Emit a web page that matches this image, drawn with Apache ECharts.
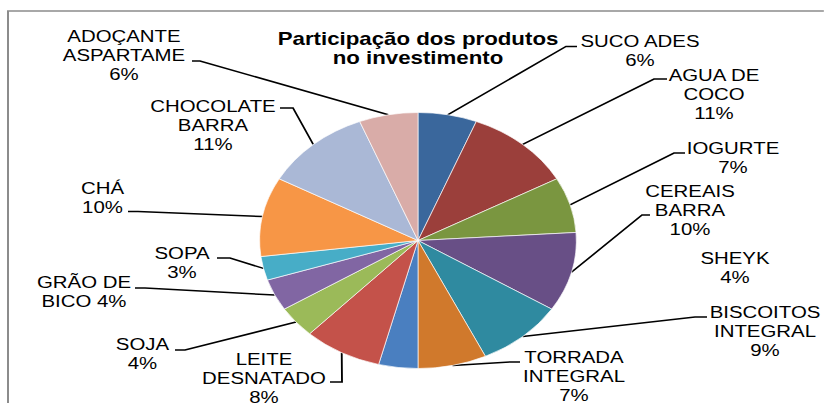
<!DOCTYPE html>
<html lang="pt">
  <head>
    <meta charset="UTF-8" />
    <title>Participação dos produtos no investimento</title>
    <script src="https://cdn.jsdelivr.net/npm/echarts@6/dist/echarts.min.js"></script>
    <style>
      html, body { margin: 0; padding: 0; background: #fff; overflow: hidden; }
      /* the source picture is stretched sideways, so the chart is drawn narrow and widened */
      #chart { width: 666px; height: 403px; transform: scaleX(1.237); transform-origin: 0 0; }
    </style>
  </head>
  <body>
    <div id="chart"></div>

    <script>
      var STRETCH = 1.237

      var categories = [
        "SUCO ADES", "AGUA DE COCO", "IOGURTE", "CEREAIS BARRA", "BISCOITOS INTEGRAL",
        "TORRADA INTEGRAL", "SHEYK", "LEITE DESNATADO", "SOJA", "GRÃO DE BICO",
        "SOPA", "CHÁ", "CHOCOLATE BARRA", "ADOÇANTE ASPARTAME",
      ]
      var values = [6, 11, 7, 10, 9, 7, 4, 8, 4, 4, 3, 10, 11, 6]

      // how each name is broken in its label
      var labelNames = [
        "SUCO ADES", "AGUA DE\nCOCO", "IOGURTE", "CEREAIS\nBARRA", "BISCOITOS\nINTEGRAL",
        "TORRADA\nINTEGRAL", "SHEYK", "LEITE\nDESNATADO", "SOJA", "GRÃO DE\nBICO",
        "SOPA", "CHÁ", "CHOCOLATE\nBARRA", "ADOÇANTE\nASPARTAME",
      ]
      var pctSameLine = { "GRÃO DE BICO": true }

      var colors = [
        "#3A679C", "#9B3F3B", "#7A9640", "#684F86", "#2F8AA0", "#D0792C", "#4A7FC0",
        "#C4524A", "#9BBA59", "#8166A3", "#47ADC7", "#F79646", "#AAB8D6", "#D9ACA8",
      ]

      // label centres, in pixels of the reference picture
      var labelPos = [
        [640, 51], [714, 94], [733, 157.5], [690, 210], [765, 331], [574, 376], [735, 268],
        [264, 378], [142.5, 353.5], [84, 292], [182, 262.5], [102.5, 198], [213, 125], [124, 55],
      ]
      // leader line bend and end (x1, y1, x2, y2), reference pixels
      var leaderPts = [
        [566, 46.5, 577, 46.5], [654, 79, 667, 79], [674, 153, 685, 153], [642, 215, 650, 215],
        [695, 317, 707, 317], [510, 362, 520, 362], null, [342, 382, 330, 382],
        [185, 350, 175, 350], [145, 288, 135, 288], [230, 258, 217, 258], [138, 211.5, 128, 211.5],
        [293, 108, 280, 108], [200, 61, 192, 61],
      ]

      var pieData = []
      for (let i = 0; i < categories.length; i++) {
        let item = { name: categories[i], value: values[i], itemStyle: { color: colors[i] } }
        if (!leaderPts[i]) item.labelLine = { show: false }
        pieData.push(item)
      }

      var mCharts = echarts.init(document.getElementById("chart"), null, { renderer: "svg" })

      var option = {
        animation: false,
        graphic: [
          {
            type: "rect",
            shape: { x: 8 / STRETCH, y: 11, width: 720, height: 500 },
            style: { fill: "none", stroke: "#8c8c8c", lineWidth: 1.6 },
            silent: true,
          },
          {
            type: "text",
            x: 418 / STRETCH,
            y: 29,
            style: {
              text: "Participação dos produtos\nno investimento",
              fill: "#000",
              font: "bold 18px 'Liberation Sans', Arial, sans-serif",
              align: "center",
              verticalAlign: "top",
              lineHeight: 19.5,
            },
          },
        ],
        series: [
          {
            type: "pie",
            center: [418 / STRETCH, 240.5],
            radius: 128,
            startAngle: 90,
            clockwise: true,
            avoidLabelOverlap: false,
            percentPrecision: 0,
            data: pieData,
            itemStyle: { borderColor: "#ffffff", borderWidth: 0.6 },
            label: {
              show: true,
              position: "outside",
              color: "#000",
              fontFamily: "'Liberation Sans', Arial, sans-serif",
              fontSize: 16.5,
              lineHeight: 19,
              align: "center",
              formatter: function (p) {
                let sep = pctSameLine[p.name] ? " " : "\n"
                return labelNames[p.dataIndex] + sep + p.percent + "%"
              },
            },
            labelLine: {
              show: true,
              length: 10,
              length2: 10,
              lineStyle: { color: "#000", width: 1.5 },
            },
            labelLayout: function (params) {
              let i = params.dataIndex
              let out = {
                x: labelPos[i][0] / STRETCH,
                y: labelPos[i][1],
                align: "center",
                verticalAlign: "middle",
              }
              let g = leaderPts[i]
              if (g && params.labelLinePoints) {
                out.labelLinePoints = [
                  params.labelLinePoints[0],
                  [g[0] / STRETCH, g[1]],
                  [g[2] / STRETCH, g[3]],
                ]
              }
              return out
            },
          },
        ],
      }

      mCharts.setOption(option)
    </script>
  </body>
</html>
